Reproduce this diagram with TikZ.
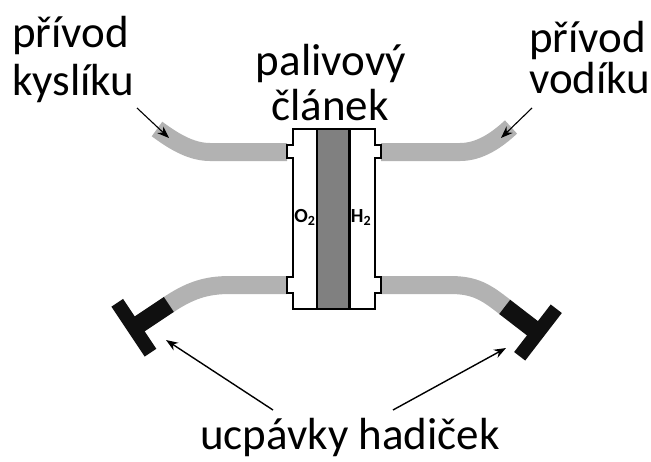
\documentclass[tikz,border=0pt]{standalone}
\usepackage{fontspec}
\setmainfont{Carlito}
\usetikzlibrary{arrows.meta}
\definecolor{c0}{RGB}{178,178,178}
\definecolor{c1}{RGB}{128,128,128}
\definecolor{c2}{RGB}{16,16,16}
\tikzset{%
  txt/.style={inner sep=0pt,font=\fontsize{45}{48}\selectfont},
  gas/.style={inner sep=0pt,font=\fontsize{20}{20}\selectfont\bfseries},
  tube/.style={line width=18pt,draw=c0},
  ptr/.style={-{Stealth[length=12pt,width=9pt]},line width=1.4pt}
}
% stopper at the end of a hose: stub and cross bar
\NewDocumentCommand\plug{mm}{%
  \begin{scope}[shift={(#1)},rotate=#2]
    \fill[c2] (-1,-9) rectangle (35,9);
    \fill[c2] (34,-30) rectangle (48,30);
  \end{scope}
}

\begin{document}
\begin{tikzpicture}[x=1pt,y=-1pt]
  \useasboundingbox (0,0) rectangle (651,461);
  % Hoses
  \draw[tube] (287,152) -- (210,152) .. controls (190,152) and (172,140) .. (157,129);
  \draw[tube] (381,152) -- (460,152) .. controls (480,152) and (497,140) .. (511,127);
  \draw[tube] (287,285) -- (230,285) .. controls (205,285) and (189,291) .. (168,305);
  \draw[tube] (381,285) -- (450,285) .. controls (475,285) and (486,292) .. (505.5,307.5);
  % Cell body with flanges
  \filldraw[fill=white,line width=1.6pt] (293,129) -- (375,129) -- (375,145) -- (381,145)
    -- (381,158) -- (375,158) -- (375,277) -- (381,277) -- (381,293) -- (375,293)
    -- (375,309) -- (293,309) -- (293,293) -- (287,293) -- (287,277) -- (293,277)
    -- (293,158) -- (287,158) -- (287,145) -- (293,145) -- cycle;
  % Membrane
  \filldraw[fill=c1,line width=1.5pt] (317,129) rectangle (349,309);
  \draw[line width=3pt] (349,129) -- (349,309);
  \node[gas,anchor=base] (o2) at (305,222) {O\textsubscript{2}};
  \node[gas,anchor=base] (h2) at (361,222) {H\textsubscript{2}};
  % Stoppers
  \plug{168,305}{213.7}
  \plug{505.5,307.5}{-37.6}
  % Labels
  \node[txt,anchor=base west] (kyA) at (12,47) {přívod};
  \node[txt,anchor=base west] (kyB) at (12,95) {kyslíku};
  \node[txt,anchor=base] (clA) at (331,75) {palivový};
  \node[txt,anchor=base] (clB) at (330,120) {článek};
  \node[txt,anchor=base west] (voA) at (529,52) {přívod};
  \node[txt,anchor=base west] (voB) at (529,93) {vodíku};
  \node[txt,anchor=base] (uc) at (350,449) {ucpávky hadiček};
  % Pointers
  \coordinate (kyS) at (137,108);
  \coordinate (kyE) at (169,138);
  \coordinate (voS) at (532,108);
  \coordinate (voE) at (501,138);
  \coordinate (ucL) at (273,410);
  \coordinate (ucR) at (393,410);
  \coordinate (plL) at (166,340);
  \coordinate (plR) at (506,348);
  \draw[ptr,line width=1.1pt] (kyS) -- (kyE);
  \draw[ptr,line width=1.1pt] (voS) -- (voE);
  \draw[ptr] (ucL) -- (plL);
  \draw[ptr] (ucR) -- (plR);
\end{tikzpicture}
\end{document}
